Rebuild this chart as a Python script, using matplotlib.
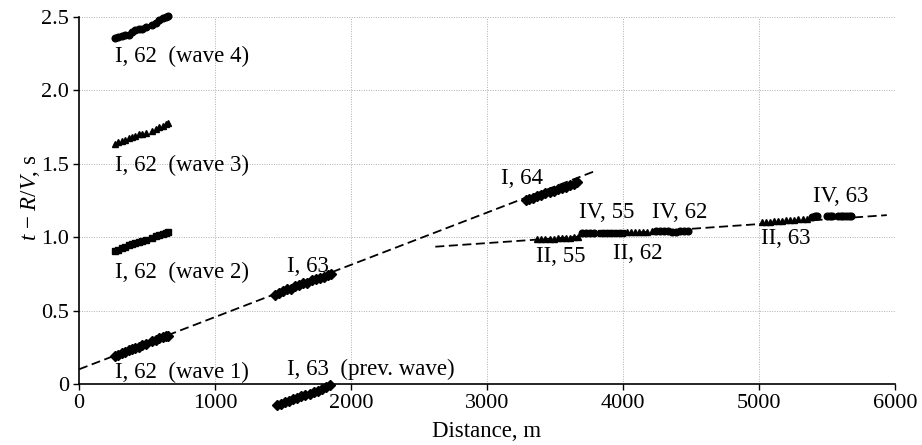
"""
Travel-time residuals t - R/V versus distance for several wave groups.
"""
import matplotlib

matplotlib.use("Agg")
import matplotlib.pyplot as plt

plt.rcParams["font.family"] = ["Liberation Serif", "DejaVu Serif"]
plt.rcParams["mathtext.fontset"] = "custom"
plt.rcParams["mathtext.rm"] = "Liberation Serif"
plt.rcParams["mathtext.it"] = "Liberation Serif:italic"

# --- data ------------------------------------------------------------------
wave_x = [265, 290, 315, 340, 365, 390, 415, 440, 465, 490,
          540, 565, 590, 615, 640, 655]
wave4_y = [2.355, 2.36, 2.37, 2.375, 2.38, 2.395, 2.41, 2.415, 2.42, 2.43,
           2.445, 2.46, 2.48, 2.49, 2.50, 2.505]
wave3_y = [1.635, 1.645, 1.655, 1.665, 1.675, 1.685, 1.69, 1.70, 1.705, 1.71,
           1.725, 1.74, 1.75, 1.76, 1.77, 1.775]
wave2_y = [0.905, 0.915, 0.925, 0.935, 0.945, 0.955, 0.96, 0.965, 0.975, 0.98,
           0.995, 1.005, 1.015, 1.02, 1.03, 1.035]
wave1_y = [0.19, 0.20, 0.21, 0.22, 0.23, 0.24, 0.245, 0.255, 0.265, 0.27,
           0.29, 0.30, 0.31, 0.32, 0.325, 0.33]

i63_x = [1440, 1470, 1500, 1530, 1560, 1590, 1620, 1650, 1680, 1710,
         1740, 1770, 1800, 1830, 1850]
i63_y = [0.605, 0.62, 0.63, 0.645, 0.65, 0.665, 0.675, 0.685, 0.69, 0.705,
         0.715, 0.72, 0.73, 0.74, 0.75]

prev_x = [1455, 1485, 1515, 1545, 1575, 1605, 1635, 1665, 1695, 1725,
          1755, 1785, 1815, 1845]
prev_y = [-0.145, -0.135, -0.125, -0.115, -0.105, -0.095, -0.085, -0.075,
          -0.065, -0.055, -0.045, -0.035, -0.02, -0.01]

i64_x = [3290, 3310, 3340, 3370, 3400, 3430, 3460, 3490, 3520, 3550,
         3580, 3610, 3640, 3665]
i64_y = [1.25, 1.26, 1.27, 1.28, 1.29, 1.30, 1.31, 1.315, 1.325, 1.335,
         1.345, 1.355, 1.365, 1.375]

ii55_x = [3370, 3400, 3430, 3460, 3490, 3520, 3550, 3580, 3610, 3640, 3670]
ii55_y = [0.985, 0.987, 0.988, 0.99, 0.99, 0.992, 0.993, 0.995, 0.996,
          0.998, 1.0]
iv55_x = [3700, 3730, 3760, 3790]
iv55_y = [1.025, 1.027, 1.028, 1.03]
ii62_sq_x = [3840, 3870, 3900, 3930, 3960, 3990]
ii62_sq_y = [1.025, 1.026, 1.027, 1.028, 1.03, 1.03]
ii62_x = [4030, 4060, 4090, 4120, 4150, 4180, 4210]
ii62_y = [1.032, 1.033, 1.034, 1.035, 1.036, 1.037, 1.04]
iv62_x = [4240, 4270, 4300, 4330, 4360, 4390, 4420, 4450, 4480]
iv62_y = [1.04, 1.04, 1.04, 1.04, 1.038, 1.038, 1.04, 1.04, 1.04]

ii63_x = [5020, 5050, 5080, 5110, 5140, 5170, 5200, 5230, 5260, 5290,
          5320, 5350]
ii63_y = [1.10, 1.103, 1.105, 1.107, 1.11, 1.112, 1.115, 1.117, 1.12,
          1.122, 1.125, 1.127]
iv63_x = [5390, 5410, 5430, 5500, 5520, 5540, 5580, 5600, 5620, 5640,
          5660, 5680]
iv63_y = [1.14, 1.145, 1.143, 1.142, 1.145, 1.145, 1.147, 1.147, 1.147,
          1.146, 1.145, 1.145]

fit1_x = [0, 3780]
fit1_y = [0.1, 1.445]
fit2_x = [2620, 5940]
fit2_y = [0.935, 1.15]

x_ticks = [0, 1000, 2000, 3000, 4000, 5000, 6000]
y_ticks = [0, 0.5, 1.0, 1.5, 2.0, 2.5]
y_tick_labels = ["0", "0.5", "1.0", "1.5", "2.0", "2.5"]

labels = [
    ("I, 62  (wave 4)", 265, 2.23),
    ("I, 62  (wave 3)", 265, 1.485),
    ("I, 62  (wave 2)", 265, 0.763),
    ("I, 62  (wave 1)", 265, 0.08),
    ("I, 63  (prev. wave)", 1530, 0.10),
    ("I, 63", 1530, 0.80),
    ("I, 64", 3103, 1.40),
    ("IV, 55", 3676, 1.17),
    ("IV, 62", 4213, 1.17),
    ("II, 55", 3360, 0.87),
    ("II, 62", 3926, 0.89),
    ("II, 63", 5015, 0.99),
    ("IV, 63", 5397, 1.28),
]

# --- figure -----------------------------------------------------------------
fig = plt.figure(figsize=(9.22, 4.45), dpi=100)
ax = fig.add_axes([0.0857, 0.081, 0.885, 0.881])

grid_kw = dict(color="#b0b0b0", linestyle=(0, (1, 1.5)), linewidth=0.7, zorder=0)
ax.vlines(x_ticks[1:], 0, 2.5, **grid_kw)
ax.hlines(y_ticks[1:], 0, 6000, **grid_kw)

dash = (0, (5, 2.5))
ax.plot(fit1_x, fit1_y, color="black", linestyle=dash, linewidth=1.3, zorder=2)
ax.plot(fit2_x, fit2_y, color="black", linestyle=dash, linewidth=1.3, zorder=2)

mk = dict(color="black", linestyle="none", markersize=4.8, zorder=3,
          clip_on=False)
ax.plot(wave_x, wave4_y, marker="o", **mk)
ax.plot(wave_x, wave3_y, marker="^", **mk)
ax.plot(wave_x, wave2_y, marker="s", **mk)
ax.plot(wave_x, wave1_y, marker="D", **mk)
ax.plot(i63_x, i63_y, marker="D", **mk)
ax.plot(prev_x, prev_y, marker="D", **mk)
ax.plot(i64_x, i64_y, marker="D", **mk)
ax.plot(ii55_x, ii55_y, marker="^", **mk)
ax.plot(iv55_x, iv55_y, marker="o", **mk)
ax.plot(ii62_sq_x, ii62_sq_y, marker="s", **mk)
ax.plot(ii62_x, ii62_y, marker="^", **mk)
ax.plot(iv62_x, iv62_y, marker="o", **mk)
ax.plot(ii63_x, ii63_y, marker="^", **mk)
ax.plot(iv63_x, iv63_y, marker="o", **mk)

for text, x, y in labels:
    ax.text(x, y, text, fontsize=16.5, ha="left", va="center", zorder=4)

ax.set_xlim(0, 6000)
ax.set_ylim(-0.17, 2.5)
ax.set_xticks(x_ticks)
ax.set_yticks(y_ticks)
ax.set_yticklabels(y_tick_labels)
ax.tick_params(labelsize=16, length=4, width=1, direction="out", pad=3)

for side in ("top", "right"):
    ax.spines[side].set_visible(False)
ax.spines["bottom"].set_position(("data", 0))
ax.spines["bottom"].set_bounds(0, 6000)
ax.spines["left"].set_bounds(0, 2.5)
ax.spines["bottom"].set_linewidth(1.2)
ax.spines["left"].set_linewidth(1.2)

ax.set_xlabel("Distance, m", fontsize=16.5, labelpad=0)
ax.xaxis.set_label_coords(0.5, -0.03)
ax.set_ylabel("$t$ − $R$/$V$, s", fontsize=16.5)
ax.yaxis.set_label_coords(-0.045, 0.54)

fig.savefig("out.png", dpi=100)
